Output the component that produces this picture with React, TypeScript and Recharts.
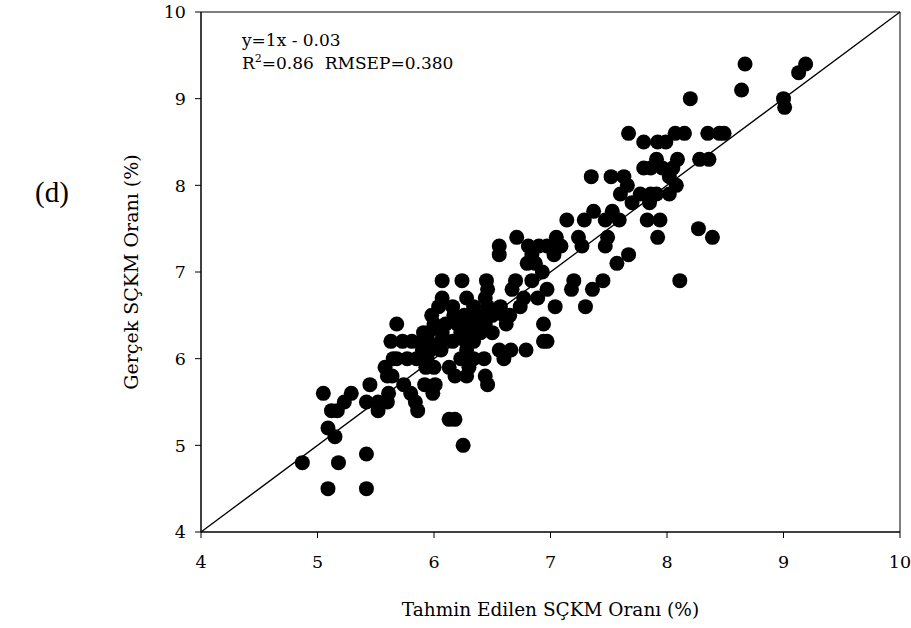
import React from "react"
import { ReferenceArea, ReferenceLine, Scatter, ScatterChart, XAxis, YAxis } from "recharts"

const predicted = [
    4.87, 5.09, 5.42, 5.18, 5.42, 6.25, 5.09, 5.15, 5.12, 5.17, 5.23, 5.05, 5.29, 5.42, 5.45, 5.52,
    5.52, 5.6, 5.61, 5.74, 5.8, 5.84, 5.86, 5.92, 5.99, 6.01, 6.13, 6.18, 6.46, 5.6, 5.64, 5.58,
    5.65, 5.68, 5.77, 5.85, 5.93, 6.0, 6.13, 6.18, 6.28, 6.3, 6.44, 6.23, 6.34, 6.43, 5.94, 6.56,
    6.66, 6.6, 6.79, 5.9, 5.97, 6.06, 6.28, 5.63, 5.73, 5.81, 5.9, 5.95, 6.06, 6.16, 6.27, 6.34,
    6.94, 6.97, 5.91, 5.95, 6.07, 6.23, 6.31, 6.4, 6.5, 5.68, 6.0, 6.1, 6.2, 6.28, 6.37, 6.44,
    6.62, 6.94, 5.98, 6.17, 6.26, 6.34, 6.43, 6.5, 6.6, 6.65, 6.04, 6.16, 6.34, 6.46, 6.57, 6.74,
    7.04, 7.3, 6.07, 6.28, 6.44, 6.77, 6.89, 6.46, 6.67, 6.97, 7.18, 7.36, 6.07, 6.24, 6.45, 6.7,
    6.84, 7.2, 7.45, 8.11, 6.93, 6.8, 6.87, 7.57, 6.56, 6.84, 7.03, 7.67, 6.56, 6.81, 6.9, 6.97,
    7.09, 7.27, 7.47, 6.71, 7.05, 7.24, 7.49, 7.92, 8.39, 8.27, 7.14, 7.29, 7.47, 7.59, 7.83, 7.94,
    7.37, 7.53, 7.7, 7.85, 7.6, 7.77, 7.86, 7.91, 8.02, 7.66, 8.08, 7.35, 7.52, 7.63, 8.02, 7.8,
    7.86, 7.96, 8.05, 7.91, 8.09, 8.28, 8.36, 7.8, 7.92, 7.99, 7.67, 8.07, 8.15, 8.35, 8.45, 8.49,
    9.01, 8.2, 9.0, 8.64, 9.13, 8.67, 9.19,
]

const actual = [
    4.8, 4.5, 4.5, 4.8, 4.9, 5.0, 5.2, 5.1, 5.4, 5.4, 5.5, 5.6, 5.6, 5.5, 5.7, 5.5,
    5.4, 5.5, 5.6, 5.7, 5.6, 5.5, 5.4, 5.7, 5.6, 5.7, 5.3, 5.3, 5.7, 5.8, 5.8, 5.9,
    6.0, 6.0, 6.0, 6.0, 5.9, 5.9, 5.9, 5.8, 5.8, 5.9, 5.8, 6.0, 6.0, 6.0, 6.0, 6.1,
    6.1, 6.0, 6.1, 6.1, 6.1, 6.1, 6.1, 6.2, 6.2, 6.2, 6.2, 6.2, 6.2, 6.2, 6.2, 6.2,
    6.2, 6.2, 6.3, 6.3, 6.3, 6.3, 6.3, 6.3, 6.3, 6.4, 6.4, 6.4, 6.4, 6.4, 6.4, 6.4,
    6.4, 6.4, 6.5, 6.5, 6.5, 6.5, 6.5, 6.5, 6.5, 6.5, 6.6, 6.6, 6.6, 6.6, 6.6, 6.6,
    6.6, 6.6, 6.7, 6.7, 6.7, 6.7, 6.7, 6.8, 6.8, 6.8, 6.8, 6.8, 6.9, 6.9, 6.9, 6.9,
    6.9, 6.9, 6.9, 6.9, 7.0, 7.1, 7.1, 7.1, 7.2, 7.2, 7.2, 7.2, 7.3, 7.3, 7.3, 7.3,
    7.3, 7.3, 7.3, 7.4, 7.4, 7.4, 7.4, 7.4, 7.4, 7.5, 7.6, 7.6, 7.6, 7.6, 7.6, 7.6,
    7.7, 7.7, 7.8, 7.8, 7.9, 7.9, 7.9, 7.9, 7.9, 8.0, 8.0, 8.1, 8.1, 8.1, 8.1, 8.2,
    8.2, 8.2, 8.2, 8.3, 8.3, 8.3, 8.3, 8.5, 8.5, 8.5, 8.6, 8.6, 8.6, 8.6, 8.6, 8.6,
    8.9, 9.0, 9.0, 9.1, 9.3, 9.4, 9.4,
]

const axisTicks = [4, 5, 6, 7, 8, 9, 10]

const points = predicted.map((x, i) => ({ x, y: actual[i] }))

const font = "'DejaVu Serif', serif"
const tickStyle = { fill: "#000", fontSize: 17.5, fontFamily: font }

const Dot = (props: any) => {
    const { cx, cy } = props
    if (cx == null || cy == null) return null
    return <circle cx={cx} cy={cy} r={7.5} fill="#000" />
}

export default function App() {
    return (
        <div style={{ position: "absolute", left: 0, top: 0, width: 911, height: 628, background: "#fff" }}>
            <ScatterChart width={911} height={628} margin={{ top: 12, right: 11, bottom: 0, left: 0 }}>
                <XAxis
                    type="number"
                    dataKey="x"
                    domain={[4, 10]}
                    ticks={axisTicks}
                    height={96}
                    tick={tickStyle}
                    tickMargin={18}
                    stroke="#000"
                    label={{
                        value: "Tahmin Edilen SÇKM Oranı (%)",
                        position: "insideBottom",
                        offset: 12,
                        style: { fill: "#000", fontSize: 18.5, fontFamily: font },
                    }}
                />
                <YAxis
                    type="number"
                    dataKey="y"
                    domain={[4, 10]}
                    ticks={axisTicks}
                    width={201}
                    tick={tickStyle}
                    tickMargin={9}
                    stroke="#000"
                />
                <ReferenceArea x1={4} x2={10} y1={4} y2={10} fill="none" fillOpacity={0} stroke="#000" strokeWidth={1} />
                <ReferenceLine segment={[{ x: 4, y: 4 }, { x: 10, y: 10 }]} stroke="#000" strokeWidth={1.3} />
                <Scatter data={points} shape={<Dot />} isAnimationActive={false} />
                <text
                    x={131}
                    y={272}
                    transform="rotate(-90 131 272)"
                    textAnchor="middle"
                    dominantBaseline="central"
                    style={{ fontSize: 19, fontFamily: font, fill: "#000" }}
                >
                    Gerçek SÇKM Oranı (%)
                </text>
                <text x={52} y={192} textAnchor="middle" dominantBaseline="central" style={{ fontSize: 29, fontFamily: "'Liberation Serif', serif", fill: "#000" }}>
                    (d)
                </text>
                <text x={242} y={46} style={{ fontSize: 17, fontFamily: font, fill: "#000" }}>
                    y=1x - 0.03
                </text>
                <text x={242} y={69} style={{ fontSize: 17, fontFamily: font, fill: "#000", whiteSpace: "pre" }}>
                    <tspan>R</tspan>
                    <tspan dy={-7} fontSize={11}>2</tspan>
                    <tspan dy={7}>=0.86  RMSEP=0.380</tspan>
                </text>
            </ScatterChart>
        </div>
    )
}
